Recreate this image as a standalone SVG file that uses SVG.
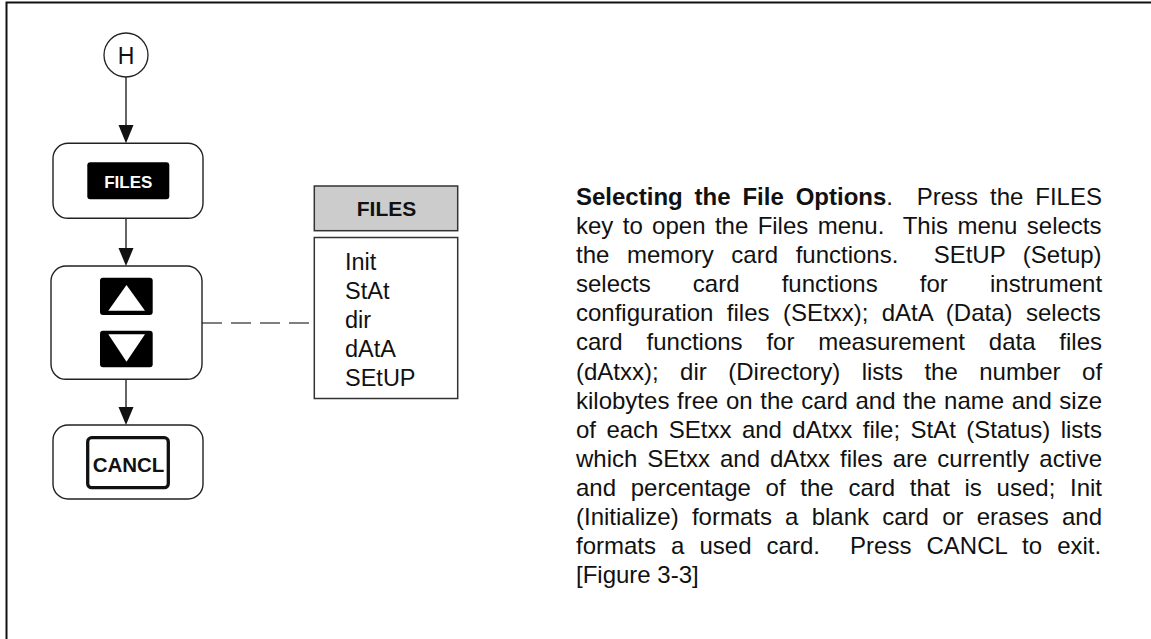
<svg xmlns="http://www.w3.org/2000/svg" width="1151" height="639" viewBox="0 0 1151 639">
<style>
.frame{stroke:#111;stroke-width:2;fill:none}
.node{fill:#fff;stroke:#222;stroke-width:1.4}
.key{fill:#000;stroke:none}
.t{font-family:"Liberation Sans",Arial,sans-serif;fill:#111}
.b{font-weight:bold}
.conn{stroke:#111;stroke-width:1.3;fill:none}
.dash{stroke:#555;stroke-width:1.4;fill:none;stroke-dasharray:20 9}
.para{font-family:"Liberation Sans",Arial,sans-serif;font-size:24px;fill:#111}
</style>
<defs>
<marker id="arr" markerWidth="15" markerHeight="18" refX="7.5" refY="18" orient="auto" markerUnits="userSpaceOnUse" viewBox="0 0 15 18">
<path d="M0,0 L15,0 L7.5,18 Z" fill="#111"/>
</marker>
</defs>
<rect width="1151" height="639" fill="#fff"/>
<path class="frame" d="M6.5,639 V2.5 H1151"/>

<g id="connectors">
<line class="conn" x1="126" y1="77" x2="126" y2="125"/>
<path d="M118.5,125 L133.5,125 L126,143.3 Z" fill="#111"/>
<line class="conn" x1="126" y1="218" x2="126" y2="248"/>
<path d="M118.5,248 L133.5,248 L126,266 Z" fill="#111"/>
<line class="conn" x1="126" y1="379" x2="126" y2="407"/>
<path d="M118.5,407 L133.5,407 L126,425 Z" fill="#111"/>
<line class="dash" x1="202" y1="323" x2="314" y2="323"/>
</g>

<g id="node-H">
<circle cx="126" cy="55" r="22" fill="#fff" stroke="#222" stroke-width="1.3"/>
<text class="t" x="126" y="63.5" font-size="23" text-anchor="middle">H</text>
</g>

<g id="node-files-key">
<rect class="node" x="53" y="143.3" width="150" height="75" rx="15"/>
<rect class="key" x="87.3" y="162.3" width="82" height="37" rx="3"/>
<text class="t b" x="128.3" y="187.5" font-size="17" text-anchor="middle" fill="#fff" style="fill:#fff">FILES</text>
</g>

<g id="node-arrows">
<rect class="node" x="51" y="266" width="151" height="113.3" rx="15"/>
<rect class="key" x="100" y="277.7" width="52.7" height="37.3" rx="3"/>
<path d="M126.5,285 L145,310.7 L108.3,310.7 Z" fill="#fff"/>
<rect class="key" x="100" y="330.7" width="52.7" height="36.6" rx="3"/>
<path d="M108.3,334.3 L145,334.3 L126.5,361.7 Z" fill="#fff"/>
</g>

<g id="node-cancl">
<rect class="node" x="53" y="425" width="150" height="74" rx="15"/>
<rect x="87.7" y="437.7" width="80.6" height="50" rx="4" fill="#fff" stroke="#111" stroke-width="3.3"/>
<text class="t b" x="128.5" y="471.5" font-size="20.5" text-anchor="middle">CANCL</text>
</g>

<g id="node-menu">
<rect x="314.3" y="186" width="143.4" height="44.7" fill="#ccc" stroke="#333" stroke-width="1.5"/>
<text class="t b" x="386.5" y="216" font-size="21" text-anchor="middle">FILES</text>
<rect x="314.3" y="237.5" width="143.4" height="161" fill="#fff" stroke="#333" stroke-width="1.5"/>
<text class="t" font-size="23.5" x="345"><tspan x="345" y="270">Init</tspan><tspan x="345" y="299">StAt</tspan><tspan x="345" y="328">dir</tspan><tspan x="345" y="357">dAtA</tspan><tspan x="345" y="386">SEtUP</tspan></text>
</g>

<g id="description">
<text class="para" xml:space="preserve" x="576" y="205" word-spacing="5.21"><tspan font-weight="bold">Selecting the File Options</tspan>.  Press the FILES</text>
<text class="para" xml:space="preserve" x="576" y="234.1" word-spacing="2.71">key to open the Files menu.  This menu selects</text>
<text class="para" xml:space="preserve" x="576" y="263.2" word-spacing="10.97">the memory card functions.  SEtUP (Setup)</text>
<text class="para" xml:space="preserve" x="576" y="292.2" word-spacing="35.47">selects card functions for instrument</text>
<text class="para" xml:space="preserve" x="576" y="321.3" word-spacing="6.76">configuration files (SEtxx); dAtA (Data) selects</text>
<text class="para" xml:space="preserve" x="576" y="350.4" word-spacing="17.16">card functions for measurement data files</text>
<text class="para" xml:space="preserve" x="576" y="379.5" word-spacing="14.77">(dAtxx); dir (Directory) lists the number of</text>
<text class="para" xml:space="preserve" x="576" y="408.6" word-spacing="0.93">kilobytes free on the card and the name and size</text>
<text class="para" xml:space="preserve" x="576" y="437.6" word-spacing="3.72">of each SEtxx and dAtxx file; StAt (Status) lists</text>
<text class="para" xml:space="preserve" x="576" y="466.7" word-spacing="3.31">which SEtxx and dAtxx files are currently active</text>
<text class="para" xml:space="preserve" x="576" y="495.8" word-spacing="8.05">and percentage of the card that is used; Init</text>
<text class="para" xml:space="preserve" x="576" y="524.9" word-spacing="6.54">(Initialize) formats a blank card or erases and</text>
<text class="para" xml:space="preserve" x="576" y="554" word-spacing="8.4">formats a used card.  Press CANCL to exit.</text>
<text class="para" x="576" y="583">[Figure 3-3]</text>
</g>
</svg>
